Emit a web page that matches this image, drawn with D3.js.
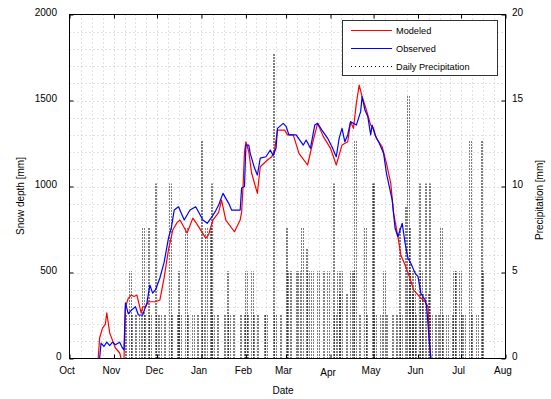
<!DOCTYPE html>
<html><head><meta charset="utf-8">
<script src="https://cdn.jsdelivr.net/npm/d3@7/dist/d3.min.js"></script>
<style>body{margin:0;background:#fff}svg text{font-family:"Liberation Sans",Arial,Helvetica,sans-serif;fill:#000}</style>
</head><body><svg id="c" width="551" height="399"></svg>
<script>
// ---- data ----
const monthLabels = ["Oct","Nov","Dec","Jan","Feb","Mar","Apr","May","Jun","Jul","Aug"];
const depthTicks = [0,500,1000,1500,2000];
const precipTicks = [0,5,10,15,20];
const legendLabels = ["Modeled","Observed","Daily Precipitation"];
// days after 1 Oct
const modDay   = [0,20,21,23,25,26,28,29,32,35,36,38,39,41,43,45,47,50,51,53,55,60,63,66,69,72,75,77,82,86,89,95,97,100,104,106,109,115,119,120,121,122,123,125,127,131,133,138,141,143,145,150,152,156,160,166,170,173,177,182,186,190,194,196,198,200,202,204,207,210,212,214,218,221,224,226,229,231,234,237,240,244,248,250,251,252,304];
const modDepth = [0,0,119,177,200,266,150,127,61,32,0,0,301,350,369,360,369,264,300,301,330,330,340,470,631,747,790,805,730,816,780,700,720,805,850,921,805,737,805,850,999,1200,1260,1202,1077,960,1115,1154,1173,1212,1328,1328,1300,1300,1193,1125,1270,1367,1290,1222,1125,1241,1260,1377,1338,1483,1590,1522,1445,1357,1338,1280,1231,1135,1018,844,708,602,544,476,398,360,330,301,90,0,0];
const obsDay   = [0,21,22,24,26,28,30,32,35,37,38,39,41,43,46,48,51,53,54,56,58,60,63,66,69,71,73,76,80,84,88,93,96,99,102,104,107,111,113,119,120,122,123,125,126,129,131,133,137,140,142,144,145,149,151,153,158,163,165,168,171,173,176,180,183,186,188,190,192,194,196,200,203,204,206,208,210,211,213,216,219,221,225,227,229,232,234,236,238,241,243,245,248,249,251,252,304];
const obsDepth = [0,0,90,70,95,75,95,80,95,60,50,323,260,280,301,253,253,300,323,427,380,400,468,560,700,760,863,882,805,863,882,805,786,820,860,892,960,902,863,863,991,1000,1241,1241,1193,1107,1067,1165,1173,1212,1180,1222,1338,1367,1350,1300,1300,1241,1270,1222,1357,1367,1328,1280,1231,1173,1280,1338,1260,1300,1377,1357,1435,1522,1445,1406,1300,1357,1300,1251,1193,1077,921,757,708,786,670,583,554,496,476,379,340,301,88,0,0];
const precipDay = [40,43,44,47,50,52,53,56,57,61,62,64,67,71,72,76,77,78,82,83,87,90,93,94,96,99,100,101,104,109,111,112,115,120,123,124,125,128,129,132,137,138,143,144,148,152,153,155,159,161,163,166,167,170,174,178,181,185,186,188,189,190,194,197,199,200,203,207,208,212,213,214,218,220,222,226,229,231,232,235,237,238,239,240,241,242,245,246,247,249,251,252,253,256,258,260,261,264,268,269,270,273,274,276,280,281,285,288,289];
const precipMm  = [2.54,5.08,2.54,2.54,2.54,7.62,2.54,7.62,2.54,10.16,2.54,2.54,2.54,10.16,2.54,2.54,5.08,2.54,7.62,2.54,2.54,2.54,12.7,2.54,7.62,7.62,10.16,2.54,2.54,2.54,5.08,2.54,2.54,2.54,2.54,5.08,2.54,5.08,2.54,2.54,2.54,2.54,17.78,2.54,2.54,7.62,5.08,5.08,5.08,5.08,7.62,6.35,5.08,5.08,5.08,5.08,5.08,10.16,2.54,5.08,3.81,5.08,3.81,5.08,5.08,12.7,2.54,7.62,2.54,10.16,10.16,2.54,2.54,5.08,2.54,2.54,2.54,7.62,2.54,8.89,15.24,7.62,5.08,3.81,5.08,2.54,10.16,5.08,3.81,10.16,3.81,10.16,2.54,2.54,2.54,7.62,2.54,2.54,2.54,5.08,5.08,5.08,2.54,2.54,12.7,2.54,2.54,12.7,5.08];

// ---- layout ----
const svg = d3.select("#c");
const L = 69.5, R = 505.5, T = 14.5, B = 358.5;
const start = new Date(Date.UTC(2009,9,1)), end = new Date(Date.UTC(2010,7,1));
const dd = d => d3.utcDay.offset(start, d);
const x = d3.scaleUtc().domain([start,end]).range([L,R]);
const y = d3.scaleLinear().domain([0,2000]).range([B,T]);
const yp = d3.scaleLinear().domain([0,20]).range([B,T]);
const months = d3.utcMonth.range(start, d3.utcDay.offset(end,1));

// grid
const grid = svg.append("g").attr("stroke","#c4c4c4").attr("stroke-width",1).attr("stroke-dasharray","1,3");
const vx = [];
for (let i=0;i<months.length-1;i++){
  const a=x(months[i]), b=x(months[i+1]);
  for (let k=(i===0?1:0);k<4;k++) vx.push(a+(b-a)*k/4);
}
grid.selectAll("line.v").data(vx).join("line").attr("class","v")
  .attr("x1",d=>Math.round(d)+0.5).attr("x2",d=>Math.round(d)+0.5).attr("y1",T).attr("y2",B);
grid.selectAll("line.h").data(d3.range(100,2000,100)).join("line").attr("class","h")
  .attr("x1",L).attr("x2",R).attr("y1",d=>Math.round(y(d))+0.5).attr("y2",d=>Math.round(y(d))+0.5);

// precipitation bars (dotted sides, pixel-snapped)
const pdata = precipDay.map((d,i)=>[d,precipMm[i]]);
const snap = v => Math.floor(v)+0.5;
svg.append("g").selectAll("path").data(pdata).join("path")
  .attr("d", d => {
    const xl = snap(x(dd(d[0]-0.45))), xr = snap(x(dd(d[0]+0.45))), yt = yp(d[1]);
    return xr-xl>=1 ? `M${xl},${B}V${yt}M${xr},${B}V${yt}` : `M${xl},${B}V${yt}`;
  })
  .attr("fill","none").attr("stroke","#000").attr("stroke-width",1).attr("stroke-dasharray","1,2");

// lines
const line = d3.line().x(d=>x(dd(d[0]))).y(d=>y(d[1]));
svg.append("path").datum(modDay.map((d,i)=>[d,modDepth[i]])).attr("d",line)
  .attr("fill","none").attr("stroke","#ff0000").attr("stroke-width",1.2).attr("stroke-linejoin","round");
svg.append("path").datum(obsDay.map((d,i)=>[d,obsDepth[i]])).attr("d",line)
  .attr("fill","none").attr("stroke","#0000ff").attr("stroke-width",1.2).attr("stroke-linejoin","round");

// axes
const fs = "10px";
const gb = svg.append("g").attr("transform",`translate(0,${B})`)
  .call(d3.axisBottom(x).tickValues(months).tickSizeInner(-4).tickSizeOuter(0).tickPadding(8)
    .tickFormat((d,i)=>monthLabels[i]));
gb.selectAll("text").attr("font-size",fs).attr("dx",-3)
  .attr("y",(d,i)=>monthLabels[i]==="Apr"?10.5:8);
svg.append("g").attr("transform",`translate(0,${T})`)
  .call(d3.axisTop(x).tickValues(months).tickSizeInner(-4).tickSizeOuter(0).tickFormat(""));
const gl = svg.append("g").attr("transform",`translate(${L},0)`)
  .call(d3.axisLeft(y).tickValues(depthTicks).tickSizeInner(-4).tickSizeOuter(0).tickPadding(12.5).tickFormat(d3.format("d")));
gl.selectAll("text").attr("font-size",fs).attr("dy","0.32em").attr("y",-2)
  .attr("x",d=>d===0?-8:-12.5);
const gr = svg.append("g").attr("transform",`translate(${R},0)`)
  .call(d3.axisRight(yp).tickValues(precipTicks).tickSizeInner(-4).tickSizeOuter(0).tickPadding(6.5).tickFormat(d3.format("d")));
gr.selectAll("text").attr("font-size",fs).attr("dy","0.32em").attr("y",-2);
svg.selectAll(".domain").remove();
svg.selectAll(".tick line").attr("stroke","#000");

// frame
svg.append("rect").attr("x",L).attr("y",T).attr("width",R-L).attr("height",B-T)
  .attr("fill","none").attr("stroke","#000").attr("stroke-width",1);

// titles
svg.append("text").attr("x",283).attr("y",394).attr("text-anchor","middle").attr("font-size",fs).text("Date");
svg.append("text").attr("transform","translate(24,196) rotate(-90)").attr("text-anchor","middle").attr("font-size",fs).text("Snow depth [mm]");
svg.append("text").attr("transform","translate(543,200) rotate(-90)").attr("text-anchor","middle").attr("font-size",fs).text("Precipitation [mm]");

// legend
const lg = svg.append("g");
lg.append("rect").attr("x",342.5).attr("y",20.5).attr("width",155).attr("height",55)
  .attr("fill","#fff").attr("stroke","#333").attr("stroke-width",1);
const ly = [30.5,48.5,66.5];
const lstyle = [{c:"#ff0000",w:1.2,da:null},{c:"#0000ff",w:1.2,da:null},{c:"#000",w:1,da:"1,3"}];
legendLabels.forEach((t,i)=>{
  lg.append("line").attr("x1",351).attr("x2",392).attr("y1",ly[i]).attr("y2",ly[i])
    .attr("stroke",lstyle[i].c).attr("stroke-width",lstyle[i].w).attr("stroke-dasharray",lstyle[i].da);
  lg.append("text").attr("x",396).attr("y",ly[i]+3.3).attr("font-size","9.2px").text(t);
});
</script></body></html>
